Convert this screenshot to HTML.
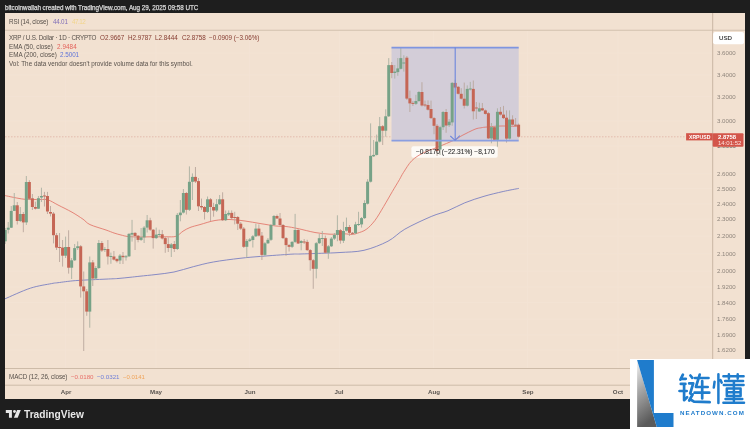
<!DOCTYPE html>
<html><head><meta charset="utf-8"><style>
*{margin:0;padding:0;box-sizing:border-box}
html,body{width:750px;height:429px;overflow:hidden;background:#1e1e1e;font-family:"Liberation Sans",sans-serif}
.abs{position:absolute}
.t{position:absolute;white-space:pre;line-height:10px;will-change:transform;padding:0 3px;margin-left:-3px}
</style></head><body>
<svg class="abs" style="left:0;top:0" width="750" height="429" viewBox="0 0 750 429">
<rect x="5" y="13" width="740" height="386" fill="#f2e1d1"/>
<line x1="5" y1="30.2" x2="745" y2="30.2" stroke="#d2c0ae" stroke-width="1.1"/>
<line x1="5" y1="368.5" x2="745" y2="368.5" stroke="#cdbba8" stroke-width="1"/>
<line x1="5" y1="385.2" x2="745" y2="385.2" stroke="#cdbba8" stroke-width="1"/>
<line x1="712.7" y1="13" x2="712.7" y2="399" stroke="#c9b6a3" stroke-width="1"/>
<defs><clipPath id="cp"><rect x="5" y="31" width="707.7" height="337"/></clipPath></defs><g clip-path="url(#cp)">
<line x1="65.6" y1="31" x2="65.6" y2="368" stroke="#f3e3d4" stroke-width="1"/>
<line x1="156" y1="31" x2="156" y2="368" stroke="#f3e3d4" stroke-width="1"/>
<line x1="249.6" y1="31" x2="249.6" y2="368" stroke="#f3e3d4" stroke-width="1"/>
<line x1="339.5" y1="31" x2="339.5" y2="368" stroke="#f3e3d4" stroke-width="1"/>
<line x1="433.7" y1="31" x2="433.7" y2="368" stroke="#f3e3d4" stroke-width="1"/>
<line x1="527.7" y1="31" x2="527.7" y2="368" stroke="#f3e3d4" stroke-width="1"/>
<line x1="618" y1="31" x2="618" y2="368" stroke="#f3e3d4" stroke-width="1"/>
<line x1="5" y1="53.1" x2="712" y2="53.1" stroke="#f3e3d4" stroke-width="1"/>
<line x1="5" y1="75" x2="712" y2="75" stroke="#f3e3d4" stroke-width="1"/>
<line x1="5" y1="96.6" x2="712" y2="96.6" stroke="#f3e3d4" stroke-width="1"/>
<line x1="5" y1="121" x2="712" y2="121" stroke="#f3e3d4" stroke-width="1"/>
<line x1="5" y1="146" x2="712" y2="146" stroke="#f3e3d4" stroke-width="1"/>
<line x1="5" y1="173.8" x2="712" y2="173.8" stroke="#f3e3d4" stroke-width="1"/>
<line x1="5" y1="188.7" x2="712" y2="188.7" stroke="#f3e3d4" stroke-width="1"/>
<line x1="5" y1="204" x2="712" y2="204" stroke="#f3e3d4" stroke-width="1"/>
<line x1="5" y1="219.3" x2="712" y2="219.3" stroke="#f3e3d4" stroke-width="1"/>
<line x1="5" y1="236.3" x2="712" y2="236.3" stroke="#f3e3d4" stroke-width="1"/>
<line x1="5" y1="253.8" x2="712" y2="253.8" stroke="#f3e3d4" stroke-width="1"/>
<line x1="5" y1="271.3" x2="712" y2="271.3" stroke="#f3e3d4" stroke-width="1"/>
<line x1="5" y1="287" x2="712" y2="287" stroke="#f3e3d4" stroke-width="1"/>
<line x1="5" y1="302.5" x2="712" y2="302.5" stroke="#f3e3d4" stroke-width="1"/>
<line x1="5" y1="319.3" x2="712" y2="319.3" stroke="#f3e3d4" stroke-width="1"/>
<line x1="5" y1="335" x2="712" y2="335" stroke="#f3e3d4" stroke-width="1"/>
<line x1="5" y1="350" x2="712" y2="350" stroke="#f3e3d4" stroke-width="1"/>
<line x1="5" y1="136.8" x2="686" y2="136.8" stroke="#e0b3a3" stroke-width="0.8" stroke-dasharray="1.5,1.5"/>
<rect x="391.5" y="47.5" width="127.2" height="93" fill="#d3cdd8"/>
<rect x="411.4" y="146.3" width="86.3" height="11.4" rx="2" fill="#fdfaf6"/>
<path d="M5.00 195.60 C8.17 196.20 18.17 198.55 24.00 199.20 C29.83 199.85 36.00 199.38 40.00 199.50 C44.00 199.62 45.00 198.98 48.00 199.90 C51.00 200.82 54.00 202.95 58.00 205.00 C62.00 207.05 67.83 209.83 72.00 212.20 C76.17 214.57 80.00 217.13 83.00 219.20 C86.00 221.27 86.17 222.80 90.00 224.60 C93.83 226.40 102.00 228.60 106.00 230.00 C110.00 231.40 111.50 232.17 114.00 233.00 C116.50 233.83 118.67 234.42 121.00 235.00 C123.33 235.58 124.83 236.17 128.00 236.50 C131.17 236.83 136.17 236.95 140.00 237.00 C143.83 237.05 146.67 236.83 151.00 236.80 C155.33 236.77 161.83 236.88 166.00 236.80 C170.17 236.72 173.17 237.23 176.00 236.30 C178.83 235.37 180.67 232.67 183.00 231.20 C185.33 229.73 187.17 228.60 190.00 227.50 C192.83 226.40 195.83 225.77 200.00 224.60 C204.17 223.43 210.00 221.35 215.00 220.50 C220.00 219.65 225.00 219.42 230.00 219.50 C235.00 219.58 240.00 220.33 245.00 221.00 C250.00 221.67 254.83 222.67 260.00 223.50 C265.17 224.33 271.67 225.50 276.00 226.00 C280.33 226.50 282.33 226.07 286.00 226.50 C289.67 226.93 293.17 227.60 298.00 228.60 C302.83 229.60 309.67 231.57 315.00 232.50 C320.33 233.43 325.17 233.98 330.00 234.20 C334.83 234.42 340.33 233.75 344.00 233.80 C347.67 233.85 349.77 234.60 352.00 234.50 C354.23 234.40 355.03 234.05 357.40 233.20 C359.77 232.35 363.28 231.52 366.20 229.40 C369.12 227.28 372.00 224.30 374.90 220.50 C377.80 216.70 380.70 211.42 383.60 206.60 C386.50 201.78 389.67 196.08 392.30 191.60 C394.93 187.12 397.55 182.87 399.40 179.70 C401.25 176.53 401.33 175.77 403.40 172.60 C405.47 169.43 408.53 163.97 411.80 160.70 C415.07 157.43 418.80 155.22 423.00 153.00 C427.20 150.78 431.65 149.62 437.00 147.40 C442.35 145.18 450.92 141.68 455.10 139.70 C459.28 137.72 458.78 137.25 462.10 135.50 C465.42 133.75 471.85 130.48 475.00 129.20 C478.15 127.92 479.00 128.17 481.00 127.80 C483.00 127.43 483.67 127.30 487.00 127.00 C490.33 126.70 495.83 126.08 501.00 126.00 C506.17 125.92 515.17 126.42 518.00 126.50" fill="none" stroke="#e27468" stroke-width="0.85"/>
<path d="M5.00 298.80 C9.22 297.03 22.55 290.73 30.30 288.20 C38.05 285.67 46.88 284.52 51.50 283.60 C56.12 282.68 53.95 283.20 58.00 282.70 C62.05 282.20 67.80 281.20 75.80 280.60 C83.80 280.00 98.97 279.45 106.00 279.10 C113.03 278.75 114.00 278.80 118.00 278.50 C122.00 278.20 126.33 277.68 130.00 277.30 C133.67 276.92 135.67 276.67 140.00 276.20 C144.33 275.73 150.33 275.20 156.00 274.50 C161.67 273.80 167.78 273.30 174.00 272.00 C180.22 270.70 186.75 268.37 193.30 266.70 C199.85 265.03 205.52 263.40 213.30 262.00 C221.08 260.60 232.12 259.23 240.00 258.30 C247.88 257.37 252.12 257.08 260.60 256.40 C269.08 255.72 284.33 254.60 290.90 254.20 C297.47 253.80 294.95 254.15 300.00 254.00 C305.05 253.85 314.53 253.55 321.20 253.30 C327.87 253.05 332.87 253.00 340.00 252.50 C347.13 252.00 356.00 252.18 364.00 250.30 C372.00 248.42 381.20 244.72 388.00 241.20 C394.80 237.68 397.60 233.32 404.80 229.20 C412.00 225.08 424.00 219.58 431.20 216.50 C438.40 213.42 442.40 212.98 448.00 210.70 C453.60 208.42 458.80 205.20 464.80 202.80 C470.80 200.40 477.60 198.18 484.00 196.30 C490.40 194.42 497.40 192.82 503.20 191.50 C509.00 190.18 516.20 188.92 518.80 188.40" fill="none" stroke="#7a80c2" stroke-width="0.9"/>
<line x1="5.20" y1="228.0" x2="5.20" y2="244.0" stroke="#a9b0a2" stroke-width="0.9"/>
<rect x="3.70" y="230.0" width="3.0" height="11.30" fill="#76a287"/>
<line x1="8.22" y1="222.0" x2="8.22" y2="233.5" stroke="#a9b0a2" stroke-width="0.9"/>
<rect x="6.72" y="227.7" width="3.0" height="2.00" fill="#76a287"/>
<line x1="11.24" y1="206.0" x2="11.24" y2="228.0" stroke="#a9b0a2" stroke-width="0.9"/>
<rect x="9.74" y="210.9" width="3.0" height="16.80" fill="#76a287"/>
<line x1="14.26" y1="193.0" x2="14.26" y2="211.0" stroke="#a9b0a2" stroke-width="0.9"/>
<rect x="12.76" y="205.3" width="3.0" height="5.60" fill="#76a287"/>
<line x1="17.28" y1="202.0" x2="17.28" y2="224.5" stroke="#b9a69c" stroke-width="0.9"/>
<rect x="15.78" y="205.3" width="3.0" height="15.70" fill="#c56655"/>
<line x1="20.30" y1="207.0" x2="20.30" y2="222.0" stroke="#a9b0a2" stroke-width="0.9"/>
<rect x="18.80" y="214.0" width="3.0" height="7.00" fill="#76a287"/>
<line x1="23.32" y1="212.0" x2="23.32" y2="232.2" stroke="#b9a69c" stroke-width="0.9"/>
<rect x="21.82" y="214.0" width="3.0" height="8.40" fill="#c56655"/>
<line x1="26.34" y1="176.0" x2="26.34" y2="225.0" stroke="#a9b0a2" stroke-width="0.9"/>
<rect x="24.84" y="182.0" width="3.0" height="40.40" fill="#76a287"/>
<line x1="29.36" y1="180.2" x2="29.36" y2="200.0" stroke="#b9a69c" stroke-width="0.9"/>
<rect x="27.86" y="182.0" width="3.0" height="16.80" fill="#c56655"/>
<line x1="32.38" y1="194.0" x2="32.38" y2="210.0" stroke="#b9a69c" stroke-width="0.9"/>
<rect x="30.88" y="198.3" width="3.0" height="8.70" fill="#c56655"/>
<line x1="35.40" y1="201.7" x2="35.40" y2="209.5" stroke="#b9a69c" stroke-width="0.9"/>
<rect x="33.90" y="207.0" width="3.0" height="1.70" fill="#c56655"/>
<line x1="38.42" y1="196.0" x2="38.42" y2="209.0" stroke="#a9b0a2" stroke-width="0.9"/>
<rect x="36.92" y="198.2" width="3.0" height="10.50" fill="#76a287"/>
<line x1="41.44" y1="187.7" x2="41.44" y2="202.0" stroke="#a9b0a2" stroke-width="0.9"/>
<rect x="39.94" y="196.0" width="3.0" height="1.50" fill="#76a287"/>
<line x1="44.46" y1="191.9" x2="44.46" y2="206.5" stroke="#b9a69c" stroke-width="0.9"/>
<rect x="42.96" y="195.5" width="3.0" height="1.00" fill="#c56655"/>
<line x1="47.48" y1="191.9" x2="47.48" y2="214.0" stroke="#b9a69c" stroke-width="0.9"/>
<rect x="45.98" y="196.0" width="3.0" height="15.50" fill="#c56655"/>
<line x1="50.50" y1="206.0" x2="50.50" y2="216.4" stroke="#b9a69c" stroke-width="0.9"/>
<rect x="49.00" y="212.0" width="3.0" height="1.60" fill="#c56655"/>
<line x1="53.52" y1="212.0" x2="53.52" y2="243.4" stroke="#b9a69c" stroke-width="0.9"/>
<rect x="52.02" y="213.6" width="3.0" height="21.60" fill="#c56655"/>
<line x1="56.54" y1="233.0" x2="56.54" y2="250.0" stroke="#b9a69c" stroke-width="0.9"/>
<rect x="55.04" y="235.2" width="3.0" height="12.40" fill="#c56655"/>
<line x1="59.56" y1="233.0" x2="59.56" y2="262.0" stroke="#b9a69c" stroke-width="0.9"/>
<rect x="58.06" y="247.0" width="3.0" height="1.00" fill="#c56655"/>
<line x1="62.58" y1="240.0" x2="62.58" y2="266.6" stroke="#b9a69c" stroke-width="0.9"/>
<rect x="61.08" y="247.6" width="3.0" height="8.10" fill="#c56655"/>
<line x1="65.60" y1="236.6" x2="65.60" y2="258.0" stroke="#a9b0a2" stroke-width="0.9"/>
<rect x="64.10" y="247.0" width="3.0" height="8.70" fill="#76a287"/>
<line x1="68.62" y1="230.3" x2="68.62" y2="273.6" stroke="#b9a69c" stroke-width="0.9"/>
<rect x="67.12" y="247.0" width="3.0" height="20.70" fill="#c56655"/>
<line x1="71.64" y1="258.0" x2="71.64" y2="279.0" stroke="#a9b0a2" stroke-width="0.9"/>
<rect x="70.14" y="260.3" width="3.0" height="7.40" fill="#76a287"/>
<line x1="74.66" y1="244.0" x2="74.66" y2="261.0" stroke="#a9b0a2" stroke-width="0.9"/>
<rect x="73.16" y="248.1" width="3.0" height="12.20" fill="#76a287"/>
<line x1="77.68" y1="241.4" x2="77.68" y2="250.0" stroke="#a9b0a2" stroke-width="0.9"/>
<rect x="76.18" y="246.3" width="3.0" height="1.80" fill="#76a287"/>
<line x1="80.70" y1="245.0" x2="80.70" y2="297.6" stroke="#b9a69c" stroke-width="0.9"/>
<rect x="79.20" y="246.3" width="3.0" height="40.10" fill="#c56655"/>
<line x1="83.72" y1="271.5" x2="83.72" y2="351.0" stroke="#b9a69c" stroke-width="0.9"/>
<rect x="82.22" y="286.4" width="3.0" height="4.90" fill="#c56655"/>
<line x1="86.74" y1="289.0" x2="86.74" y2="315.8" stroke="#b9a69c" stroke-width="0.9"/>
<rect x="85.24" y="291.3" width="3.0" height="20.30" fill="#c56655"/>
<line x1="89.76" y1="256.5" x2="89.76" y2="327.7" stroke="#a9b0a2" stroke-width="0.9"/>
<rect x="88.26" y="262.4" width="3.0" height="49.20" fill="#76a287"/>
<line x1="92.78" y1="260.0" x2="92.78" y2="286.0" stroke="#b9a69c" stroke-width="0.9"/>
<rect x="91.28" y="262.4" width="3.0" height="16.10" fill="#c56655"/>
<line x1="95.80" y1="266.0" x2="95.80" y2="280.0" stroke="#a9b0a2" stroke-width="0.9"/>
<rect x="94.30" y="268.0" width="3.0" height="10.50" fill="#76a287"/>
<line x1="98.82" y1="240.0" x2="98.82" y2="269.0" stroke="#a9b0a2" stroke-width="0.9"/>
<rect x="97.32" y="243.0" width="3.0" height="25.00" fill="#76a287"/>
<line x1="101.84" y1="241.0" x2="101.84" y2="252.0" stroke="#b9a69c" stroke-width="0.9"/>
<rect x="100.34" y="243.0" width="3.0" height="7.50" fill="#c56655"/>
<line x1="104.86" y1="247.0" x2="104.86" y2="252.0" stroke="#a9b0a2" stroke-width="0.9"/>
<rect x="103.36" y="249.0" width="3.0" height="1.00" fill="#76a287"/>
<line x1="107.88" y1="240.0" x2="107.88" y2="264.5" stroke="#b9a69c" stroke-width="0.9"/>
<rect x="106.38" y="249.0" width="3.0" height="7.50" fill="#c56655"/>
<line x1="110.90" y1="252.6" x2="110.90" y2="263.8" stroke="#a9b0a2" stroke-width="0.9"/>
<rect x="109.40" y="256.0" width="3.0" height="1.00" fill="#76a287"/>
<line x1="113.92" y1="251.0" x2="113.92" y2="260.5" stroke="#b9a69c" stroke-width="0.9"/>
<rect x="112.42" y="256.5" width="3.0" height="3.10" fill="#c56655"/>
<line x1="116.94" y1="258.0" x2="116.94" y2="262.6" stroke="#b9a69c" stroke-width="0.9"/>
<rect x="115.44" y="259.0" width="3.0" height="2.20" fill="#c56655"/>
<line x1="119.96" y1="254.0" x2="119.96" y2="264.0" stroke="#a9b0a2" stroke-width="0.9"/>
<rect x="118.46" y="255.6" width="3.0" height="4.90" fill="#76a287"/>
<line x1="122.98" y1="252.0" x2="122.98" y2="264.0" stroke="#b9a69c" stroke-width="0.9"/>
<rect x="121.48" y="255.8" width="3.0" height="1.40" fill="#c56655"/>
<line x1="126.00" y1="255.0" x2="126.00" y2="260.5" stroke="#a9b0a2" stroke-width="0.9"/>
<rect x="124.50" y="256.3" width="3.0" height="1.00" fill="#76a287"/>
<line x1="129.02" y1="233.0" x2="129.02" y2="257.0" stroke="#a9b0a2" stroke-width="0.9"/>
<rect x="127.52" y="233.9" width="3.0" height="22.40" fill="#76a287"/>
<line x1="132.04" y1="219.9" x2="132.04" y2="241.6" stroke="#a9b0a2" stroke-width="0.9"/>
<rect x="130.54" y="232.9" width="3.0" height="1.70" fill="#76a287"/>
<line x1="135.06" y1="232.0" x2="135.06" y2="250.0" stroke="#b9a69c" stroke-width="0.9"/>
<rect x="133.56" y="232.9" width="3.0" height="3.10" fill="#c56655"/>
<line x1="138.08" y1="235.0" x2="138.08" y2="242.3" stroke="#b9a69c" stroke-width="0.9"/>
<rect x="136.58" y="235.7" width="3.0" height="4.20" fill="#c56655"/>
<line x1="141.10" y1="228.0" x2="141.10" y2="241.0" stroke="#a9b0a2" stroke-width="0.9"/>
<rect x="139.60" y="237.4" width="3.0" height="2.50" fill="#76a287"/>
<line x1="144.12" y1="226.0" x2="144.12" y2="243.0" stroke="#a9b0a2" stroke-width="0.9"/>
<rect x="142.62" y="227.6" width="3.0" height="9.80" fill="#76a287"/>
<line x1="147.14" y1="215.0" x2="147.14" y2="232.5" stroke="#a9b0a2" stroke-width="0.9"/>
<rect x="145.64" y="220.3" width="3.0" height="7.30" fill="#76a287"/>
<line x1="150.16" y1="217.8" x2="150.16" y2="231.0" stroke="#b9a69c" stroke-width="0.9"/>
<rect x="148.66" y="220.3" width="3.0" height="9.40" fill="#c56655"/>
<line x1="153.18" y1="229.0" x2="153.18" y2="248.6" stroke="#b9a69c" stroke-width="0.9"/>
<rect x="151.68" y="229.7" width="3.0" height="8.40" fill="#c56655"/>
<line x1="156.20" y1="227.6" x2="156.20" y2="239.0" stroke="#a9b0a2" stroke-width="0.9"/>
<rect x="154.70" y="234.6" width="3.0" height="3.50" fill="#76a287"/>
<line x1="159.22" y1="229.7" x2="159.22" y2="237.0" stroke="#a9b0a2" stroke-width="0.9"/>
<rect x="157.72" y="234.0" width="3.0" height="1.00" fill="#76a287"/>
<line x1="162.24" y1="230.0" x2="162.24" y2="239.5" stroke="#b9a69c" stroke-width="0.9"/>
<rect x="160.74" y="234.3" width="3.0" height="4.20" fill="#c56655"/>
<line x1="165.26" y1="237.0" x2="165.26" y2="252.8" stroke="#b9a69c" stroke-width="0.9"/>
<rect x="163.76" y="238.1" width="3.0" height="6.00" fill="#c56655"/>
<line x1="168.28" y1="237.4" x2="168.28" y2="252.0" stroke="#b9a69c" stroke-width="0.9"/>
<rect x="166.78" y="244.1" width="3.0" height="3.90" fill="#c56655"/>
<line x1="171.30" y1="243.0" x2="171.30" y2="257.0" stroke="#a9b0a2" stroke-width="0.9"/>
<rect x="169.80" y="244.4" width="3.0" height="3.60" fill="#76a287"/>
<line x1="174.32" y1="241.0" x2="174.32" y2="252.0" stroke="#b9a69c" stroke-width="0.9"/>
<rect x="172.82" y="244.0" width="3.0" height="5.00" fill="#c56655"/>
<line x1="177.34" y1="213.0" x2="177.34" y2="250.0" stroke="#a9b0a2" stroke-width="0.9"/>
<rect x="175.84" y="214.9" width="3.0" height="34.10" fill="#76a287"/>
<line x1="180.36" y1="200.0" x2="180.36" y2="221.3" stroke="#a9b0a2" stroke-width="0.9"/>
<rect x="178.86" y="212.6" width="3.0" height="2.60" fill="#76a287"/>
<line x1="183.38" y1="189.0" x2="183.38" y2="213.5" stroke="#a9b0a2" stroke-width="0.9"/>
<rect x="181.88" y="193.0" width="3.0" height="19.60" fill="#76a287"/>
<line x1="186.40" y1="192.0" x2="186.40" y2="214.5" stroke="#b9a69c" stroke-width="0.9"/>
<rect x="184.90" y="193.0" width="3.0" height="16.80" fill="#c56655"/>
<line x1="189.42" y1="166.4" x2="189.42" y2="211.0" stroke="#a9b0a2" stroke-width="0.9"/>
<rect x="187.92" y="181.8" width="3.0" height="28.00" fill="#76a287"/>
<line x1="192.44" y1="173.4" x2="192.44" y2="200.0" stroke="#a9b0a2" stroke-width="0.9"/>
<rect x="190.94" y="176.9" width="3.0" height="4.90" fill="#76a287"/>
<line x1="195.46" y1="167.0" x2="195.46" y2="183.0" stroke="#b9a69c" stroke-width="0.9"/>
<rect x="193.96" y="176.9" width="3.0" height="4.60" fill="#c56655"/>
<line x1="198.48" y1="178.0" x2="198.48" y2="211.0" stroke="#b9a69c" stroke-width="0.9"/>
<rect x="196.98" y="181.1" width="3.0" height="25.20" fill="#c56655"/>
<line x1="201.50" y1="198.6" x2="201.50" y2="209.8" stroke="#b9a69c" stroke-width="0.9"/>
<rect x="200.00" y="206.0" width="3.0" height="1.40" fill="#c56655"/>
<line x1="204.52" y1="206.0" x2="204.52" y2="219.5" stroke="#b9a69c" stroke-width="0.9"/>
<rect x="203.02" y="207.0" width="3.0" height="4.90" fill="#c56655"/>
<line x1="207.54" y1="196.5" x2="207.54" y2="213.0" stroke="#a9b0a2" stroke-width="0.9"/>
<rect x="206.04" y="199.3" width="3.0" height="12.60" fill="#76a287"/>
<line x1="210.56" y1="198.0" x2="210.56" y2="221.0" stroke="#b9a69c" stroke-width="0.9"/>
<rect x="209.06" y="199.3" width="3.0" height="7.70" fill="#c56655"/>
<line x1="213.58" y1="202.8" x2="213.58" y2="216.7" stroke="#b9a69c" stroke-width="0.9"/>
<rect x="212.08" y="207.0" width="3.0" height="3.50" fill="#c56655"/>
<line x1="216.60" y1="199.0" x2="216.60" y2="212.0" stroke="#a9b0a2" stroke-width="0.9"/>
<rect x="215.10" y="204.2" width="3.0" height="6.30" fill="#76a287"/>
<line x1="219.62" y1="195.0" x2="219.62" y2="205.0" stroke="#a9b0a2" stroke-width="0.9"/>
<rect x="218.12" y="199.3" width="3.0" height="4.90" fill="#76a287"/>
<line x1="222.64" y1="192.3" x2="222.64" y2="221.0" stroke="#b9a69c" stroke-width="0.9"/>
<rect x="221.14" y="199.3" width="3.0" height="20.90" fill="#c56655"/>
<line x1="225.66" y1="210.5" x2="225.66" y2="221.0" stroke="#a9b0a2" stroke-width="0.9"/>
<rect x="224.16" y="214.0" width="3.0" height="6.20" fill="#76a287"/>
<line x1="228.68" y1="210.4" x2="228.68" y2="216.0" stroke="#a9b0a2" stroke-width="0.9"/>
<rect x="227.18" y="212.9" width="3.0" height="1.70" fill="#76a287"/>
<line x1="231.70" y1="210.4" x2="231.70" y2="219.0" stroke="#b9a69c" stroke-width="0.9"/>
<rect x="230.20" y="212.9" width="3.0" height="5.20" fill="#c56655"/>
<line x1="234.72" y1="211.8" x2="234.72" y2="224.4" stroke="#b9a69c" stroke-width="0.9"/>
<rect x="233.22" y="217.0" width="3.0" height="1.00" fill="#c56655"/>
<line x1="237.74" y1="216.0" x2="237.74" y2="230.0" stroke="#b9a69c" stroke-width="0.9"/>
<rect x="236.24" y="217.0" width="3.0" height="6.70" fill="#c56655"/>
<line x1="240.76" y1="222.0" x2="240.76" y2="230.0" stroke="#b9a69c" stroke-width="0.9"/>
<rect x="239.26" y="223.7" width="3.0" height="4.90" fill="#c56655"/>
<line x1="243.78" y1="227.0" x2="243.78" y2="248.0" stroke="#b9a69c" stroke-width="0.9"/>
<rect x="242.28" y="228.6" width="3.0" height="18.20" fill="#c56655"/>
<line x1="246.80" y1="239.0" x2="246.80" y2="258.0" stroke="#a9b0a2" stroke-width="0.9"/>
<rect x="245.30" y="240.9" width="3.0" height="5.90" fill="#76a287"/>
<line x1="249.82" y1="238.0" x2="249.82" y2="242.0" stroke="#a9b0a2" stroke-width="0.9"/>
<rect x="248.32" y="239.5" width="3.0" height="1.40" fill="#76a287"/>
<line x1="252.84" y1="235.0" x2="252.84" y2="247.5" stroke="#a9b0a2" stroke-width="0.9"/>
<rect x="251.34" y="236.3" width="3.0" height="3.70" fill="#76a287"/>
<line x1="255.86" y1="223.7" x2="255.86" y2="237.0" stroke="#a9b0a2" stroke-width="0.9"/>
<rect x="254.36" y="228.6" width="3.0" height="7.70" fill="#76a287"/>
<line x1="258.88" y1="224.4" x2="258.88" y2="236.5" stroke="#b9a69c" stroke-width="0.9"/>
<rect x="257.38" y="228.6" width="3.0" height="7.00" fill="#c56655"/>
<line x1="261.90" y1="232.0" x2="261.90" y2="260.0" stroke="#b9a69c" stroke-width="0.9"/>
<rect x="260.40" y="235.6" width="3.0" height="19.30" fill="#c56655"/>
<line x1="264.92" y1="242.0" x2="264.92" y2="256.0" stroke="#a9b0a2" stroke-width="0.9"/>
<rect x="263.42" y="243.3" width="3.0" height="11.60" fill="#76a287"/>
<line x1="267.94" y1="238.0" x2="267.94" y2="244.0" stroke="#a9b0a2" stroke-width="0.9"/>
<rect x="266.44" y="239.8" width="3.0" height="3.50" fill="#76a287"/>
<line x1="270.96" y1="224.0" x2="270.96" y2="241.0" stroke="#a9b0a2" stroke-width="0.9"/>
<rect x="269.46" y="225.0" width="3.0" height="14.80" fill="#76a287"/>
<line x1="273.98" y1="215.0" x2="273.98" y2="226.0" stroke="#a9b0a2" stroke-width="0.9"/>
<rect x="272.48" y="216.0" width="3.0" height="9.00" fill="#76a287"/>
<line x1="277.00" y1="214.6" x2="277.00" y2="219.0" stroke="#b9a69c" stroke-width="0.9"/>
<rect x="275.50" y="216.0" width="3.0" height="2.50" fill="#c56655"/>
<line x1="280.02" y1="213.0" x2="280.02" y2="226.0" stroke="#b9a69c" stroke-width="0.9"/>
<rect x="278.52" y="218.5" width="3.0" height="6.50" fill="#c56655"/>
<line x1="283.04" y1="224.0" x2="283.04" y2="239.0" stroke="#b9a69c" stroke-width="0.9"/>
<rect x="281.54" y="225.0" width="3.0" height="13.10" fill="#c56655"/>
<line x1="286.06" y1="237.0" x2="286.06" y2="255.9" stroke="#b9a69c" stroke-width="0.9"/>
<rect x="284.56" y="238.1" width="3.0" height="7.00" fill="#c56655"/>
<line x1="289.08" y1="244.0" x2="289.08" y2="251.5" stroke="#b9a69c" stroke-width="0.9"/>
<rect x="287.58" y="245.1" width="3.0" height="1.70" fill="#c56655"/>
<line x1="292.10" y1="241.0" x2="292.10" y2="248.0" stroke="#a9b0a2" stroke-width="0.9"/>
<rect x="290.60" y="241.9" width="3.0" height="4.90" fill="#76a287"/>
<line x1="295.12" y1="213.9" x2="295.12" y2="243.0" stroke="#a9b0a2" stroke-width="0.9"/>
<rect x="293.62" y="230.0" width="3.0" height="11.90" fill="#76a287"/>
<line x1="298.14" y1="229.0" x2="298.14" y2="244.0" stroke="#b9a69c" stroke-width="0.9"/>
<rect x="296.64" y="230.0" width="3.0" height="13.50" fill="#c56655"/>
<line x1="301.16" y1="240.0" x2="301.16" y2="250.3" stroke="#a9b0a2" stroke-width="0.9"/>
<rect x="299.66" y="241.0" width="3.0" height="2.00" fill="#76a287"/>
<line x1="304.18" y1="239.0" x2="304.18" y2="244.0" stroke="#b9a69c" stroke-width="0.9"/>
<rect x="302.68" y="241.5" width="3.0" height="1.00" fill="#c56655"/>
<line x1="307.20" y1="239.8" x2="307.20" y2="251.0" stroke="#b9a69c" stroke-width="0.9"/>
<rect x="305.70" y="241.9" width="3.0" height="8.20" fill="#c56655"/>
<line x1="310.22" y1="249.0" x2="310.22" y2="270.7" stroke="#b9a69c" stroke-width="0.9"/>
<rect x="308.72" y="250.1" width="3.0" height="10.10" fill="#c56655"/>
<line x1="313.24" y1="259.0" x2="313.24" y2="288.8" stroke="#b9a69c" stroke-width="0.9"/>
<rect x="311.74" y="260.2" width="3.0" height="8.60" fill="#c56655"/>
<line x1="316.26" y1="242.0" x2="316.26" y2="278.4" stroke="#a9b0a2" stroke-width="0.9"/>
<rect x="314.76" y="243.2" width="3.0" height="25.60" fill="#76a287"/>
<line x1="319.28" y1="234.0" x2="319.28" y2="244.0" stroke="#a9b0a2" stroke-width="0.9"/>
<rect x="317.78" y="238.2" width="3.0" height="5.00" fill="#76a287"/>
<line x1="322.30" y1="231.0" x2="322.30" y2="246.0" stroke="#a9b0a2" stroke-width="0.9"/>
<rect x="320.80" y="238.0" width="3.0" height="1.00" fill="#76a287"/>
<line x1="325.32" y1="235.6" x2="325.32" y2="253.5" stroke="#b9a69c" stroke-width="0.9"/>
<rect x="323.82" y="238.2" width="3.0" height="14.50" fill="#c56655"/>
<line x1="328.34" y1="245.0" x2="328.34" y2="258.8" stroke="#a9b0a2" stroke-width="0.9"/>
<rect x="326.84" y="246.3" width="3.0" height="6.40" fill="#76a287"/>
<line x1="331.36" y1="237.0" x2="331.36" y2="247.0" stroke="#a9b0a2" stroke-width="0.9"/>
<rect x="329.86" y="238.6" width="3.0" height="7.70" fill="#76a287"/>
<line x1="334.38" y1="233.0" x2="334.38" y2="240.0" stroke="#a9b0a2" stroke-width="0.9"/>
<rect x="332.88" y="234.9" width="3.0" height="3.70" fill="#76a287"/>
<line x1="337.40" y1="215.3" x2="337.40" y2="241.2" stroke="#a9b0a2" stroke-width="0.9"/>
<rect x="335.90" y="230.0" width="3.0" height="4.90" fill="#76a287"/>
<line x1="340.42" y1="229.0" x2="340.42" y2="243.7" stroke="#b9a69c" stroke-width="0.9"/>
<rect x="338.92" y="230.2" width="3.0" height="10.30" fill="#c56655"/>
<line x1="343.44" y1="221.8" x2="343.44" y2="243.0" stroke="#a9b0a2" stroke-width="0.9"/>
<rect x="341.94" y="231.0" width="3.0" height="9.70" fill="#76a287"/>
<line x1="346.46" y1="217.6" x2="346.46" y2="231.5" stroke="#a9b0a2" stroke-width="0.9"/>
<rect x="344.96" y="227.0" width="3.0" height="3.70" fill="#76a287"/>
<line x1="349.48" y1="225.0" x2="349.48" y2="236.0" stroke="#b9a69c" stroke-width="0.9"/>
<rect x="347.98" y="227.0" width="3.0" height="5.80" fill="#c56655"/>
<line x1="352.50" y1="232.0" x2="352.50" y2="235.0" stroke="#b9a69c" stroke-width="0.9"/>
<rect x="351.00" y="232.8" width="3.0" height="1.00" fill="#c56655"/>
<line x1="355.52" y1="221.8" x2="355.52" y2="234.0" stroke="#a9b0a2" stroke-width="0.9"/>
<rect x="354.02" y="224.4" width="3.0" height="8.90" fill="#76a287"/>
<line x1="358.54" y1="211.8" x2="358.54" y2="226.0" stroke="#a9b0a2" stroke-width="0.9"/>
<rect x="357.04" y="224.0" width="3.0" height="1.00" fill="#76a287"/>
<line x1="361.56" y1="217.0" x2="361.56" y2="227.6" stroke="#a9b0a2" stroke-width="0.9"/>
<rect x="360.06" y="218.1" width="3.0" height="6.30" fill="#76a287"/>
<line x1="364.58" y1="200.2" x2="364.58" y2="219.0" stroke="#a9b0a2" stroke-width="0.9"/>
<rect x="363.08" y="203.0" width="3.0" height="15.10" fill="#76a287"/>
<line x1="367.60" y1="179.2" x2="367.60" y2="204.5" stroke="#a9b0a2" stroke-width="0.9"/>
<rect x="366.10" y="181.7" width="3.0" height="22.00" fill="#76a287"/>
<line x1="370.62" y1="123.4" x2="370.62" y2="182.5" stroke="#a9b0a2" stroke-width="0.9"/>
<rect x="369.12" y="155.8" width="3.0" height="25.90" fill="#76a287"/>
<line x1="373.64" y1="140.0" x2="373.64" y2="157.0" stroke="#a9b0a2" stroke-width="0.9"/>
<rect x="372.14" y="154.9" width="3.0" height="1.40" fill="#76a287"/>
<line x1="376.66" y1="134.6" x2="376.66" y2="155.5" stroke="#a9b0a2" stroke-width="0.9"/>
<rect x="375.16" y="141.6" width="3.0" height="13.30" fill="#76a287"/>
<line x1="379.68" y1="117.0" x2="379.68" y2="142.5" stroke="#a9b0a2" stroke-width="0.9"/>
<rect x="378.18" y="126.2" width="3.0" height="15.40" fill="#76a287"/>
<line x1="382.70" y1="125.0" x2="382.70" y2="145.0" stroke="#b9a69c" stroke-width="0.9"/>
<rect x="381.20" y="126.2" width="3.0" height="4.50" fill="#c56655"/>
<line x1="385.72" y1="109.3" x2="385.72" y2="136.7" stroke="#a9b0a2" stroke-width="0.9"/>
<rect x="384.22" y="116.3" width="3.0" height="14.40" fill="#76a287"/>
<line x1="388.74" y1="58.1" x2="388.74" y2="117.0" stroke="#a9b0a2" stroke-width="0.9"/>
<rect x="387.24" y="65.1" width="3.0" height="51.20" fill="#76a287"/>
<line x1="391.76" y1="62.0" x2="391.76" y2="78.2" stroke="#b9a69c" stroke-width="0.9"/>
<rect x="390.26" y="65.1" width="3.0" height="7.90" fill="#c56655"/>
<line x1="394.78" y1="65.0" x2="394.78" y2="78.6" stroke="#a9b0a2" stroke-width="0.9"/>
<rect x="393.28" y="71.6" width="3.0" height="1.40" fill="#76a287"/>
<line x1="397.80" y1="58.0" x2="397.80" y2="75.8" stroke="#a9b0a2" stroke-width="0.9"/>
<rect x="396.30" y="68.4" width="3.0" height="3.70" fill="#76a287"/>
<line x1="400.82" y1="47.8" x2="400.82" y2="69.5" stroke="#a9b0a2" stroke-width="0.9"/>
<rect x="399.32" y="58.1" width="3.0" height="10.70" fill="#76a287"/>
<line x1="403.84" y1="55.3" x2="403.84" y2="71.6" stroke="#a9b0a2" stroke-width="0.9"/>
<rect x="402.34" y="62.5" width="3.0" height="1.00" fill="#76a287"/>
<line x1="406.86" y1="56.0" x2="406.86" y2="100.0" stroke="#b9a69c" stroke-width="0.9"/>
<rect x="405.36" y="57.7" width="3.0" height="40.90" fill="#c56655"/>
<line x1="409.88" y1="90.6" x2="409.88" y2="112.0" stroke="#b9a69c" stroke-width="0.9"/>
<rect x="408.38" y="98.3" width="3.0" height="5.10" fill="#c56655"/>
<line x1="412.90" y1="101.0" x2="412.90" y2="106.0" stroke="#b9a69c" stroke-width="0.9"/>
<rect x="411.40" y="102.9" width="3.0" height="1.00" fill="#c56655"/>
<line x1="415.92" y1="94.8" x2="415.92" y2="105.0" stroke="#a9b0a2" stroke-width="0.9"/>
<rect x="414.42" y="101.0" width="3.0" height="2.80" fill="#76a287"/>
<line x1="418.94" y1="91.0" x2="418.94" y2="102.0" stroke="#a9b0a2" stroke-width="0.9"/>
<rect x="417.44" y="92.0" width="3.0" height="9.00" fill="#76a287"/>
<line x1="421.96" y1="82.2" x2="421.96" y2="106.5" stroke="#b9a69c" stroke-width="0.9"/>
<rect x="420.46" y="92.0" width="3.0" height="13.50" fill="#c56655"/>
<line x1="424.98" y1="100.6" x2="424.98" y2="107.0" stroke="#b9a69c" stroke-width="0.9"/>
<rect x="423.48" y="104.5" width="3.0" height="1.00" fill="#c56655"/>
<line x1="428.00" y1="100.4" x2="428.00" y2="110.5" stroke="#b9a69c" stroke-width="0.9"/>
<rect x="426.50" y="105.0" width="3.0" height="4.70" fill="#c56655"/>
<line x1="431.02" y1="100.6" x2="431.02" y2="119.0" stroke="#b9a69c" stroke-width="0.9"/>
<rect x="429.52" y="109.0" width="3.0" height="9.10" fill="#c56655"/>
<line x1="434.04" y1="117.0" x2="434.04" y2="134.2" stroke="#b9a69c" stroke-width="0.9"/>
<rect x="432.54" y="118.1" width="3.0" height="7.70" fill="#c56655"/>
<line x1="437.06" y1="124.0" x2="437.06" y2="156.0" stroke="#b9a69c" stroke-width="0.9"/>
<rect x="435.56" y="125.8" width="3.0" height="25.20" fill="#c56655"/>
<line x1="440.08" y1="125.8" x2="440.08" y2="155.0" stroke="#a9b0a2" stroke-width="0.9"/>
<rect x="438.58" y="127.2" width="3.0" height="22.30" fill="#76a287"/>
<line x1="443.10" y1="111.0" x2="443.10" y2="130.0" stroke="#a9b0a2" stroke-width="0.9"/>
<rect x="441.60" y="112.0" width="3.0" height="15.20" fill="#76a287"/>
<line x1="446.12" y1="109.0" x2="446.12" y2="132.8" stroke="#b9a69c" stroke-width="0.9"/>
<rect x="444.62" y="112.0" width="3.0" height="13.50" fill="#c56655"/>
<line x1="449.14" y1="119.0" x2="449.14" y2="127.0" stroke="#a9b0a2" stroke-width="0.9"/>
<rect x="447.64" y="121.7" width="3.0" height="3.50" fill="#76a287"/>
<line x1="452.16" y1="82.0" x2="452.16" y2="125.8" stroke="#a9b0a2" stroke-width="0.9"/>
<rect x="450.66" y="82.9" width="3.0" height="39.50" fill="#76a287"/>
<line x1="455.18" y1="79.8" x2="455.18" y2="88.5" stroke="#b9a69c" stroke-width="0.9"/>
<rect x="453.68" y="82.9" width="3.0" height="4.60" fill="#c56655"/>
<line x1="458.20" y1="86.0" x2="458.20" y2="94.5" stroke="#b9a69c" stroke-width="0.9"/>
<rect x="456.70" y="86.8" width="3.0" height="7.00" fill="#c56655"/>
<line x1="461.22" y1="88.2" x2="461.22" y2="99.5" stroke="#b9a69c" stroke-width="0.9"/>
<rect x="459.72" y="93.8" width="3.0" height="4.90" fill="#c56655"/>
<line x1="464.24" y1="82.6" x2="464.24" y2="108.5" stroke="#b9a69c" stroke-width="0.9"/>
<rect x="462.74" y="98.7" width="3.0" height="7.00" fill="#c56655"/>
<line x1="467.26" y1="85.4" x2="467.26" y2="106.5" stroke="#a9b0a2" stroke-width="0.9"/>
<rect x="465.76" y="88.9" width="3.0" height="16.80" fill="#76a287"/>
<line x1="470.28" y1="81.9" x2="470.28" y2="90.5" stroke="#a9b0a2" stroke-width="0.9"/>
<rect x="468.78" y="88.5" width="3.0" height="1.00" fill="#76a287"/>
<line x1="473.30" y1="80.5" x2="473.30" y2="119.5" stroke="#b9a69c" stroke-width="0.9"/>
<rect x="471.80" y="88.9" width="3.0" height="22.40" fill="#c56655"/>
<line x1="476.32" y1="102.0" x2="476.32" y2="119.0" stroke="#b9a69c" stroke-width="0.9"/>
<rect x="474.82" y="107.5" width="3.0" height="1.00" fill="#c56655"/>
<line x1="479.34" y1="102.7" x2="479.34" y2="112.0" stroke="#a9b0a2" stroke-width="0.9"/>
<rect x="477.84" y="108.3" width="3.0" height="3.20" fill="#76a287"/>
<line x1="482.36" y1="103.0" x2="482.36" y2="111.0" stroke="#b9a69c" stroke-width="0.9"/>
<rect x="480.86" y="108.3" width="3.0" height="2.10" fill="#c56655"/>
<line x1="485.38" y1="109.5" x2="485.38" y2="114.5" stroke="#b9a69c" stroke-width="0.9"/>
<rect x="483.88" y="110.4" width="3.0" height="3.50" fill="#c56655"/>
<line x1="488.40" y1="112.0" x2="488.40" y2="139.0" stroke="#b9a69c" stroke-width="0.9"/>
<rect x="486.90" y="113.2" width="3.0" height="25.20" fill="#c56655"/>
<line x1="491.42" y1="123.0" x2="491.42" y2="143.3" stroke="#a9b0a2" stroke-width="0.9"/>
<rect x="489.92" y="127.2" width="3.0" height="11.20" fill="#76a287"/>
<line x1="494.44" y1="126.0" x2="494.44" y2="140.5" stroke="#b9a69c" stroke-width="0.9"/>
<rect x="492.94" y="127.2" width="3.0" height="12.60" fill="#c56655"/>
<line x1="497.46" y1="108.3" x2="497.46" y2="146.7" stroke="#a9b0a2" stroke-width="0.9"/>
<rect x="495.96" y="111.8" width="3.0" height="28.00" fill="#76a287"/>
<line x1="500.48" y1="107.0" x2="500.48" y2="115.5" stroke="#b9a69c" stroke-width="0.9"/>
<rect x="498.98" y="111.8" width="3.0" height="2.80" fill="#c56655"/>
<line x1="503.50" y1="105.9" x2="503.50" y2="119.0" stroke="#b9a69c" stroke-width="0.9"/>
<rect x="502.00" y="114.6" width="3.0" height="3.50" fill="#c56655"/>
<line x1="506.52" y1="110.4" x2="506.52" y2="142.6" stroke="#b9a69c" stroke-width="0.9"/>
<rect x="505.02" y="117.7" width="3.0" height="20.90" fill="#c56655"/>
<line x1="509.54" y1="110.4" x2="509.54" y2="139.5" stroke="#a9b0a2" stroke-width="0.9"/>
<rect x="508.04" y="119.5" width="3.0" height="19.10" fill="#76a287"/>
<line x1="512.56" y1="115.3" x2="512.56" y2="125.5" stroke="#b9a69c" stroke-width="0.9"/>
<rect x="511.06" y="119.5" width="3.0" height="5.20" fill="#c56655"/>
<line x1="515.58" y1="118.0" x2="515.58" y2="126.5" stroke="#b9a69c" stroke-width="0.9"/>
<rect x="514.08" y="124.7" width="3.0" height="1.00" fill="#c56655"/>
<line x1="518.60" y1="123.5" x2="518.60" y2="137.5" stroke="#b9a69c" stroke-width="0.9"/>
<rect x="517.10" y="124.7" width="3.0" height="12.00" fill="#c56655"/>
</g>
<line x1="391.5" y1="47.6" x2="518.7" y2="47.6" stroke="#7f95e0" stroke-width="1.6"/>
<line x1="391.5" y1="140.7" x2="518.7" y2="140.7" stroke="#8a9ee0" stroke-width="1.8"/>
<line x1="455.2" y1="47.5" x2="455.2" y2="140" stroke="#6d86dc" stroke-width="1.1"/>
<polyline points="450.3,136 455.1,140.3 459.8,135.7" fill="none" stroke="#6d86dc" stroke-width="1.1"/>
<text x="717.2" y="148.3" font-family="Liberation Sans" font-size="6.15" fill="#6f665e">2.8000</text>
<rect x="686.1" y="133.2" width="26.6" height="7.2" fill="#d3554a"/>
<rect x="712.7" y="133.2" width="30.8" height="13.5" rx="1" fill="#d3554a"/>
<rect x="713.1" y="31.9" width="30.9" height="12.3" rx="2" fill="#ffffff"/>
<rect x="630" y="359" width="120" height="70" fill="#ffffff"/>
</svg>
<div class="t" style="left:5px;top:2.81px;font-size:6.32px;color:#d8d8d8;font-weight:normal;-webkit-text-stroke:0.25px #d8d8d8;letter-spacing:-0.02px">bitcoinwallah created with TradingView.com, Aug 29, 2025 09:58 UTC</div>
<div class="t" style="left:9px;top:17.31px;font-size:6.3px;color:#57504a;font-weight:normal;letter-spacing:-0.164px">RSI (14, close)</div>
<div class="t" style="left:52.6px;top:17.31px;font-size:6.3px;color:#8170b8;font-weight:normal;letter-spacing:-0.213px">44.01</div>
<div class="t" style="left:71.8px;top:17.31px;font-size:6.3px;color:#f2d58a;font-weight:normal;letter-spacing:-0.513px">47.12</div>
<div class="t" style="left:8.8px;top:32.91px;font-size:6.3px;color:#57504a;font-weight:normal;letter-spacing:-0.214px">XRP / U.S. Dollar · 1D · CRYPTO</div>
<div class="t" style="left:100px;top:32.91px;font-size:6.3px;color:#853a2f;font-weight:normal;">O2.9667</div>
<div class="t" style="left:127.7px;top:32.91px;font-size:6.3px;color:#853a2f;font-weight:normal;">H2.9787</div>
<div class="t" style="left:155px;top:32.91px;font-size:6.3px;color:#853a2f;font-weight:normal;">L2.8444</div>
<div class="t" style="left:182px;top:32.91px;font-size:6.3px;color:#853a2f;font-weight:normal;">C2.8758</div>
<div class="t" style="left:209px;top:32.91px;font-size:6.3px;color:#853a2f;font-weight:normal;">−0.0909 (−3.06%)</div>
<div class="t" style="left:8.8px;top:41.91px;font-size:6.3px;color:#57504a;font-weight:normal;letter-spacing:-0.038px">EMA (50, close)</div>
<div class="t" style="left:56.6px;top:41.91px;font-size:6.3px;color:#e3625a;font-weight:normal;letter-spacing:0.088px">2.9484</div>
<div class="t" style="left:8.8px;top:50.41px;font-size:6.3px;color:#57504a;font-weight:normal;letter-spacing:-0.011px">EMA (200, close)</div>
<div class="t" style="left:60.1px;top:50.41px;font-size:6.3px;color:#5f74d8;font-weight:normal;letter-spacing:-0.028px">2.5001</div>
<div class="t" style="left:8.8px;top:59.01px;font-size:6.3px;color:#57504a;font-weight:normal;letter-spacing:0.020px">Vol: The data vendor doesn't provide volume data for this symbol.</div>
<div class="t" style="left:9px;top:371.71px;font-size:6.3px;color:#57504a;font-weight:normal;letter-spacing:-0.091px">MACD (12, 26, close)</div>
<div class="t" style="left:71px;top:371.71px;font-size:6.2px;color:#e8706a;font-weight:normal;">−0.0180</div>
<div class="t" style="left:97.4px;top:371.71px;font-size:6.2px;color:#6f7fd8;font-weight:normal;">−0.0321</div>
<div class="t" style="left:123.4px;top:371.71px;font-size:6.0px;color:#f0a45a;font-weight:normal;">−0.0141</div>
<div class="t" style="left:717.2px;top:48.21px;font-size:6.15px;color:#8f857c;font-weight:normal;">3.6000</div>
<div class="t" style="left:717.2px;top:70.11px;font-size:6.15px;color:#8f857c;font-weight:normal;">3.4000</div>
<div class="t" style="left:717.2px;top:91.71px;font-size:6.15px;color:#8f857c;font-weight:normal;">3.2000</div>
<div class="t" style="left:717.2px;top:116.11px;font-size:6.15px;color:#8f857c;font-weight:normal;">3.0000</div>
<div class="t" style="left:717.2px;top:168.91px;font-size:6.15px;color:#8f857c;font-weight:normal;">2.6000</div>
<div class="t" style="left:717.2px;top:183.81px;font-size:6.15px;color:#8f857c;font-weight:normal;">2.5000</div>
<div class="t" style="left:717.2px;top:199.11px;font-size:6.15px;color:#8f857c;font-weight:normal;">2.4000</div>
<div class="t" style="left:717.2px;top:214.41px;font-size:6.15px;color:#8f857c;font-weight:normal;">2.3000</div>
<div class="t" style="left:717.2px;top:231.41px;font-size:6.15px;color:#8f857c;font-weight:normal;">2.2000</div>
<div class="t" style="left:717.2px;top:248.91px;font-size:6.15px;color:#8f857c;font-weight:normal;">2.1000</div>
<div class="t" style="left:717.2px;top:266.41px;font-size:6.15px;color:#8f857c;font-weight:normal;">2.0000</div>
<div class="t" style="left:717.2px;top:282.11px;font-size:6.15px;color:#8f857c;font-weight:normal;">1.9200</div>
<div class="t" style="left:717.2px;top:297.61px;font-size:6.15px;color:#8f857c;font-weight:normal;">1.8400</div>
<div class="t" style="left:717.2px;top:314.41px;font-size:6.15px;color:#8f857c;font-weight:normal;">1.7600</div>
<div class="t" style="left:717.2px;top:330.11px;font-size:6.15px;color:#8f857c;font-weight:normal;">1.6900</div>
<div class="t" style="left:717.2px;top:345.11px;font-size:6.15px;color:#8f857c;font-weight:normal;">1.6200</div>
<div class="t" style="left:718.9px;top:33.11px;font-size:6.1px;color:#2e2e2e;font-weight:normal;-webkit-text-stroke:0.15px #2e2e2e">USD</div>
<div class="t" style="left:688.9px;top:132.09px;font-size:5.14px;color:#ffffff;font-weight:bold;">XRPUSD</div>
<div class="t" style="left:717.8px;top:132.11px;font-size:5.95px;color:#ffffff;font-weight:bold;">2.8758</div>
<div class="t" style="left:717.8px;top:138.31px;font-size:6.0px;color:#fde3de;font-weight:normal;">14:01:52</div>
<div class="t" style="left:55.8px;top:387.11px;font-size:6.17px;color:#5a5550;font-weight:bold;width:26px;text-align:center">Apr</div>
<div class="t" style="left:146px;top:387.11px;font-size:6.17px;color:#5a5550;font-weight:bold;width:26px;text-align:center">May</div>
<div class="t" style="left:239.6px;top:387.11px;font-size:6.17px;color:#5a5550;font-weight:bold;width:26px;text-align:center">Jun</div>
<div class="t" style="left:329.2px;top:387.11px;font-size:6.17px;color:#5a5550;font-weight:bold;width:26px;text-align:center">Jul</div>
<div class="t" style="left:423.7px;top:387.11px;font-size:6.17px;color:#5a5550;font-weight:bold;width:26px;text-align:center">Aug</div>
<div class="t" style="left:517.7px;top:387.11px;font-size:6.17px;color:#5a5550;font-weight:bold;width:26px;text-align:center">Sep</div>
<div class="t" style="left:608px;top:387.11px;font-size:6.17px;color:#5a5550;font-weight:bold;width:26px;text-align:center">Oct</div>
<div class="t" style="left:415.7px;top:147.42px;font-size:6.6px;color:#2e2e2e;font-weight:normal;-webkit-text-stroke:0.1px #2e2e2e">−0.8170 (−22.31%) −8,170</div>
<svg class="abs" style="left:0;top:400px" width="30" height="25" viewBox="0 400 30 25">
<path d="M5.8 409.95H11.9V417.7H8.95V412.9H5.8Z" fill="#e6e6e6"/><circle cx="14.5" cy="411.5" r="1.45" fill="#e6e6e6"/><path d="M17.1 409.95H20.8L17.7 417.7H13.9Z" fill="#e6e6e6"/></svg>
<div class="t" style="left:24px;top:409.58px;font-size:10.2px;color:#e8e8e8;font-weight:bold;">TradingView</div>
<svg class="abs" style="left:0;top:0" width="750" height="429" viewBox="0 0 750 429">
<defs><linearGradient id="gg" x1="0" y1="0" x2="0.25" y2="1"><stop offset="0" stop-color="#f4f4f4"/><stop offset="0.45" stop-color="#a9a9a9"/><stop offset="1" stop-color="#5a5a5a"/></linearGradient></defs>
<path d="M637.1 360.1 L656.8 427.1 L637.1 427.1 Z" fill="url(#gg)"/>
<path d="M637.1 360.1 L653.9 360.1 L653.9 413.1 L673.5 413.1 L673.5 427.1 L656.8 427.1 Z" fill="#1f7ccc"/>
<path d="M682.90 374.60 L680.40 379.70 M682.00 378.80 L685.80 378.80 M680.80 383.90 L685.40 383.90 M679.50 391.00 L686.70 391.00 M684.10 383.90 L684.10 400.20 L687.10 397.30 M690.40 375.50 L692.30 377.80 M689.20 383.40 L693.20 383.40 L690.20 393.50 M692.60 394.50 L689.20 400.50 M690.50 399.50 L694.00 401.60 L709.70 402.20 M695.00 378.00 L708.50 378.00 M699.70 374.60 L695.90 387.00 L707.70 387.00 M694.60 392.70 L709.30 392.70 M702.20 381.00 L702.20 398.50" fill="none" stroke="#1f7ccc" stroke-width="2.7" stroke-linecap="round" stroke-linejoin="round"/>
<path d="M718.40 374.20 L718.40 403.10 M714.60 381.70 L713.80 387.60 M720.50 380.10 L721.70 382.60 M723.40 376.30 L743.60 376.30 M728.90 374.20 L728.90 378.40 M737.70 374.20 L737.70 378.40 M725.10 381.00 L743.10 381.00 M723.80 385.10 L743.60 385.10 M726.80 388.50 L726.80 396.00 L740.60 396.00 L740.60 388.50 L726.80 388.50 M726.80 392.20 L740.60 392.20 M733.90 381.00 L733.90 401.00 M725.50 398.90 L742.30 398.90 M723.40 402.70 L744.00 402.70" fill="none" stroke="#1f7ccc" stroke-width="2.5" stroke-linecap="round" stroke-linejoin="round"/>
</svg>
<div class="t" style="left:680px;top:408.11px;font-size:6.2px;color:#1f7ccc;font-weight:bold;letter-spacing:1.07px">NEATDOWN.COM</div>
</body></html>
